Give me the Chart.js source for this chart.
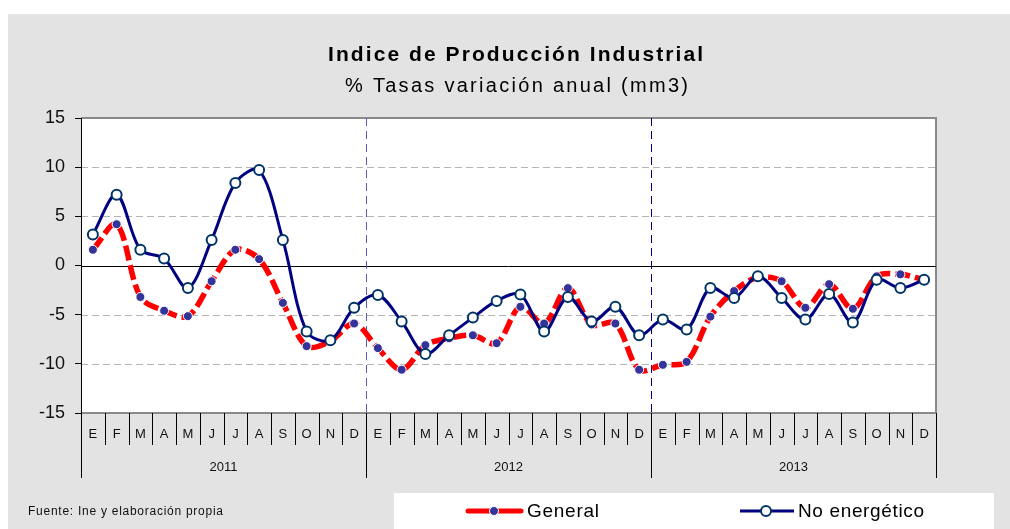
<!DOCTYPE html>
<html>
<head>
<meta charset="utf-8">
<script src="https://cdn.jsdelivr.net/npm/chart.js@4"></script>
<style>
  html, body { margin: 0; padding: 0; background: #fff; }
  canvas { display: block; }
</style>
</head>
<body>
<canvas id="ipi" width="1010" height="529"></canvas>
<script>
// data
const months = ['E', 'F', 'M', 'A', 'M', 'J', 'J', 'A', 'S', 'O', 'N', 'D'];
const years = ['2011', '2012', '2013'];
const yTicks = [-15, -10, -5, 0, 5, 10, 15];

const general = [
  1.6, 4.2, -3.2, -4.6, -5.15, -1.6, 1.6, 0.65, -3.8, -8.2, -7.7, -5.9,
  -8.4, -10.6, -8.1, -7.4, -7.1, -7.9, -4.2, -5.9, -2.3, -6.0, -5.9, -10.6,
  -10.1, -9.8, -5.2, -2.6, -1.2, -1.6, -4.3, -1.9, -4.4, -1.1, -0.9, -1.45
];
const noEnergetico = [
  3.15, 7.2, 1.6, 0.7, -2.3, 2.6, 8.4, 9.7, 2.6, -6.7, -7.6, -4.3,
  -3.0, -5.7, -9.0, -7.1, -5.3, -3.6, -2.95, -6.7, -3.2, -5.7, -4.2, -7.1,
  -5.5, -6.5, -2.3, -3.3, -1.1, -3.3, -5.5, -2.9, -5.8, -1.45, -2.3, -1.45
];

const labels = [];
years.forEach(y => months.forEach(m => labels.push(m + ' ' + y)));

const FONT = '"Liberation Sans", Arial, sans-serif';

// draw text stretched/squeezed to a given width
function fitText(ctx, text, x, y, width) {
  ctx.letterSpacing = '0px';
  const w = ctx.measureText(text).width;
  if (w < width) {
    ctx.letterSpacing = ((width - w) / Math.max(text.length - 1, 1)) + 'px';
    ctx.fillText(text, x, y);
  } else {
    ctx.fillText(text, x, y, width);
  }
  ctx.letterSpacing = '0px';
}

const frame = {
  id: 'frame',
  beforeDraw(chart) {
    const { ctx, chartArea: a, scales: { y } } = chart;
    ctx.save();
    ctx.fillStyle = '#fff';
    ctx.fillRect(0, 0, chart.width, chart.height);
    ctx.fillStyle = '#e3e3e3';
    ctx.fillRect(8, 14, chart.width - 8, chart.height - 14);
    ctx.fillStyle = '#fff';
    ctx.fillRect(a.left, a.top, a.right - a.left, a.bottom - a.top);

    // dashed grid
    ctx.strokeStyle = '#b4b4b4';
    ctx.lineWidth = 1;
    ctx.setLineDash([7, 4]);
    [-10, -5, 5, 10].forEach(v => {
      const py = Math.round(y.getPixelForValue(v)) + 0.5;
      ctx.beginPath(); ctx.moveTo(a.left, py); ctx.lineTo(a.right, py); ctx.stroke();
    });
    ctx.setLineDash([]);

    // plot border top / right / bottom
    ctx.strokeStyle = '#8a8a8a';
    ctx.lineWidth = 2;
    ctx.beginPath();
    ctx.moveTo(a.left, a.top); ctx.lineTo(a.right, a.top); ctx.lineTo(a.right, a.bottom); ctx.lineTo(a.left, a.bottom);
    ctx.stroke();
    ctx.restore();
  },
  beforeDatasetsDraw(chart) {
    const { ctx, chartArea: a, scales: { x, y } } = chart;
    const step = x.getPixelForValue(1) - x.getPixelForValue(0);
    ctx.save();
    // zero line
    const z = Math.round(y.getPixelForValue(0)) + 0.5;
    ctx.strokeStyle = '#000';
    ctx.lineWidth = 1;
    ctx.beginPath(); ctx.moveTo(a.left, z); ctx.lineTo(a.right, z); ctx.stroke();
    // year dividers
    const divColors = ['#5a5ac0', '#000080'];
    [12, 24].forEach((i, k) => {
      const px = Math.round(x.getPixelForValue(i) - step / 2) + 0.5;
      ctx.strokeStyle = divColors[k];
      ctx.setLineDash([8, 5]);
      ctx.beginPath(); ctx.moveTo(px, a.top); ctx.lineTo(px, a.bottom); ctx.stroke();
    });
    ctx.restore();
  },
  afterDraw(chart) {
    const { ctx, chartArea: a, scales: { x } } = chart;
    const step = x.getPixelForValue(1) - x.getPixelForValue(0);
    const x0 = x.getPixelForValue(0) - step / 2;
    ctx.save();

    // category axis: separators, months, years
    ctx.strokeStyle = '#000';
    ctx.lineWidth = 1;
    for (let i = 0; i <= labels.length; i++) {
      const px = Math.round(x0 + i * step) + 0.5;
      const len = (i % 12 === 0) ? 65 : 32;
      ctx.beginPath(); ctx.moveTo(px, a.bottom); ctx.lineTo(px, a.bottom + len); ctx.stroke();
    }
    ctx.fillStyle = '#111';
    ctx.textAlign = 'center';
    ctx.textBaseline = 'middle';
    ctx.font = '13px ' + FONT;
    labels.forEach((l, i) => {
      ctx.fillText(months[i % 12], x.getPixelForValue(i), a.bottom + 21);
    });
    years.forEach((yr, k) => {
      const cx = (x.getPixelForValue(k * 12) + x.getPixelForValue(k * 12 + 11)) / 2;
      ctx.fillText(yr, cx, a.bottom + 54);
    });

    // titles
    ctx.fillStyle = '#000';
    ctx.textAlign = 'left';
    ctx.textBaseline = 'alphabetic';
    ctx.font = 'bold 21px ' + FONT;
    fitText(ctx, 'Indice de Producción Industrial', 328, 61, 375);
    ctx.font = '20px ' + FONT;
    fitText(ctx, '% Tasas variación anual (mm3)', 345, 92, 343);

    // source
    ctx.fillStyle = '#111';
    ctx.textBaseline = 'middle';
    ctx.font = '12px ' + FONT;
    fitText(ctx, 'Fuente: Ine y elaboración propia', 28, 512, 195);

    // legend
    ctx.fillStyle = '#fff';
    ctx.fillRect(394, 493, 600, 36);
    const ly = 511;
    ctx.lineCap = 'round';
    ctx.strokeStyle = '#ff0000';
    ctx.lineWidth = 5;
    ctx.beginPath(); ctx.moveTo(468, ly); ctx.lineTo(521, ly); ctx.stroke();
    ctx.fillStyle = '#333399';
    ctx.strokeStyle = '#fff';
    ctx.lineWidth = 1;
    ctx.beginPath(); ctx.arc(494, ly, 4.5, 0, Math.PI * 2); ctx.fill(); ctx.stroke();

    ctx.lineCap = 'butt';
    ctx.strokeStyle = '#000080';
    ctx.lineWidth = 3;
    ctx.beginPath(); ctx.moveTo(740, ly); ctx.lineTo(794, ly); ctx.stroke();
    ctx.fillStyle = '#fff';
    ctx.strokeStyle = '#003366';
    ctx.lineWidth = 2;
    ctx.beginPath(); ctx.arc(766, ly, 5, 0, Math.PI * 2); ctx.fill(); ctx.stroke();

    ctx.fillStyle = '#000';
    ctx.font = '19px ' + FONT;
    fitText(ctx, 'General', 527, ly + 1, 72);
    fitText(ctx, 'No energético', 798, ly + 1, 126);
    ctx.restore();
  }
};

new Chart(document.getElementById('ipi'), {
  type: 'line',
  data: {
    labels: labels,
    datasets: [
      {
        label: 'No energético',
        data: noEnergetico,
        borderColor: '#000080',
        borderWidth: 3,
        tension: 0.33,
        pointRadius: 5,
        pointBackgroundColor: '#fff',
        pointBorderColor: '#003366',
        pointBorderWidth: 2
      },
      {
        label: 'General',
        data: general,
        borderColor: '#ff0000',
        borderWidth: 5.5,
        borderDash: [15, 5],
        tension: 0.33,
        pointRadius: 4.5,
        pointBackgroundColor: '#333399',
        pointBorderColor: '#fff',
        pointBorderWidth: 1
      }
    ]
  },
  options: {
    responsive: false,
    devicePixelRatio: 1,
    animation: false,
    layout: { padding: { left: 0, top: 118, right: 74, bottom: 116 } },
    plugins: {
      legend: { display: false },
      tooltip: { enabled: false },
      title: { display: false }
    },
    scales: {
      x: {
        type: 'category',
        display: false,
        offset: true
      },
      y: {
        min: -15,
        max: 15,
        afterFit: (scale) => { scale.width = 81; },
        afterBuildTicks: (scale) => { scale.ticks = yTicks.map(v => ({ value: v })); },
        ticks: {
          font: { family: FONT, size: 18 },
          color: '#111',
          padding: 10
        },
        grid: {
          drawOnChartArea: false,
          tickLength: 6,
          color: '#000'
        },
        border: { color: '#000', width: 1 }
      }
    }
  },
  plugins: [frame]
});
</script>
</body>
</html>
